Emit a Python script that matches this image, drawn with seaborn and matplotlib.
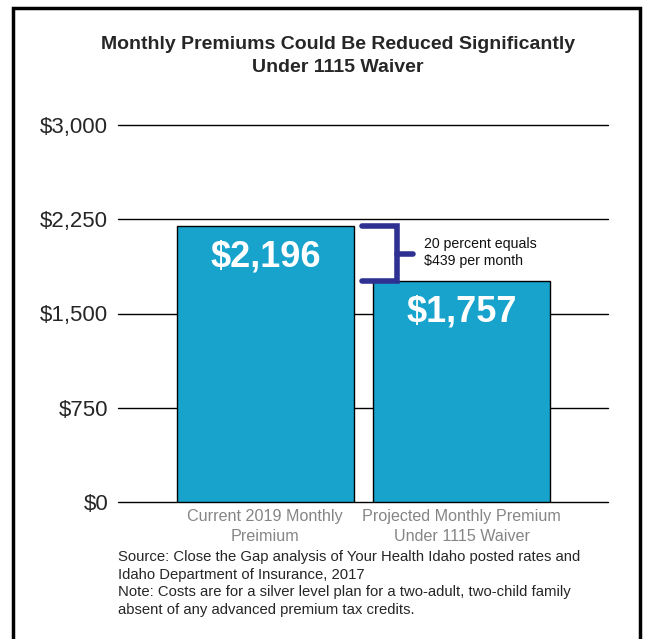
import matplotlib
matplotlib.use("Agg")
import matplotlib.pyplot as plt
import seaborn as sns
from matplotlib.patches import Rectangle

categories = ["Current 2019 Monthly\nPreimium", "Projected Monthly Premium\nUnder 1115 Waiver"]
premiums = [2196, 1757]
bar_labels = ["$2,196", "$1,757"]
tick_values = [0, 750, 1500, 2250, 3000]
tick_labels = ["$0", "$750", "$1,500", "$2,250", "$3,000"]

sns.set_style("white")
plt.rcParams["font.family"] = ["Liberation Sans", "DejaVu Sans"]

bar_color = "#18a3cd"
bracket_color = "#2e3192"

fig = plt.figure(figsize=(6.51, 6.39), dpi=100)
ax = fig.add_axes([118 / 651, 1 - 502 / 639, 490 / 651, 377 / 639])

sns.barplot(x=categories, y=premiums, color=bar_color, width=0.9,
            edgecolor="black", linewidth=1, saturation=1, ax=ax, zorder=3)

ax.set_ylim(0, 3000)
ax.set_xlim(-0.75, 1.744)
ax.set_yticks(tick_values)
ax.set_yticklabels(tick_labels, fontsize=16)
for v in tick_values:
    ax.axhline(v, color="black", linewidth=1, zorder=1, clip_on=False)
ax.tick_params(axis="y", length=0, pad=7)
ax.tick_params(axis="x", length=0, pad=5, labelsize=11.6, labelcolor="#858585")
for lab in ax.get_xticklabels():
    lab.set_linespacing(1.45)
for s in ax.spines.values():
    s.set_visible(False)
ax.set_xlabel("")
ax.set_ylabel("")

# value labels inside bars
for i, (v, lab) in enumerate(zip(premiums, bar_labels)):
    ax.text(i, v - 245, lab, ha="center", va="center", color="white",
            fontsize=26, fontweight="bold", zorder=5)

# bracket showing the difference
x0, x1, x2 = 0.49, 0.67, 0.75
mid = (premiums[0] + premiums[1]) / 2
ax.plot([x0, x1, x1, x0], [premiums[0], premiums[0], premiums[1], premiums[1]],
        color=bracket_color, linewidth=4, solid_joinstyle="miter", zorder=4, clip_on=False)
ax.plot([x1, x2], [mid, mid], color=bracket_color, linewidth=4, zorder=4, clip_on=False)
ax.text(0.81, mid + 8, "20 percent equals\n$439 per month", ha="left", va="center",
        fontsize=10.2, linespacing=1.25, color="#111111")

fig.text(338 / 651, 1 - 56 / 639,
         "Monthly Premiums Could Be Reduced Significantly\nUnder 1115 Waiver",
         ha="center", va="center", fontsize=14, fontweight="bold", linespacing=1.4)

fig.text(118 / 651, 1 - 550 / 639,
         "Source: Close the Gap analysis of Your Health Idaho posted rates and\n"
         "Idaho Department of Insurance, 2017\n"
         "Note: Costs are for a silver level plan for a two-adult, two-child family\n"
         "absent of any advanced premium tax credits.",
         ha="left", va="top", fontsize=10.7, linespacing=1.33)

# outer frame (open at the bottom edge)
fig.patches.append(Rectangle((13 / 651, -0.05), 627 / 651, 1.05 - 8 / 639,
                             transform=fig.transFigure, fill=False,
                             edgecolor="black", linewidth=2.5))

fig.savefig("out.png", dpi=100)
